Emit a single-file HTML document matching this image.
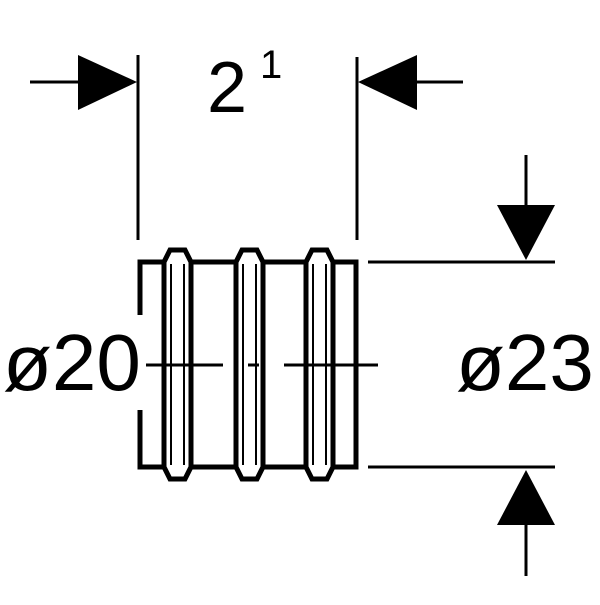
<!DOCTYPE html>
<html><head><style>body{margin:0;background:#fff}</style></head><body>
<svg width="600" height="600" viewBox="0 0 600 600" xmlns="http://www.w3.org/2000/svg">
<g stroke="#000" fill="none">
<line x1="30" y1="82" x2="80" y2="82" stroke-width="3"/>
<line x1="415" y1="82" x2="463" y2="82" stroke-width="3"/>
<line x1="138" y1="55" x2="138" y2="240" stroke-width="3"/>
<line x1="357" y1="57" x2="357" y2="240" stroke-width="3"/>
<line x1="368" y1="262" x2="555" y2="262" stroke-width="3"/>
<line x1="368" y1="467" x2="555" y2="467" stroke-width="3"/>
<line x1="526" y1="155" x2="526" y2="210" stroke-width="3"/>
<line x1="526" y1="520" x2="526" y2="576" stroke-width="3"/>
<path d="M140 315 V262 H356 V467 H140 V410" stroke-width="5"/>
</g>
<g fill="#000">
<polygon points="78,55 137,82 78,110"/>
<polygon points="417,55 358,82 417,110"/>
<polygon points="497,205 555,205 526,260"/>
<polygon points="497,525 555,525 526,470"/>
</g>
<g stroke="#000" fill="#fff">
<g id="r">
<path d="M164 262 L170 250 H185 L191 262 V467 L185 479 H170 L164 467 Z" stroke-width="5"/>
<line x1="171" y1="264" x2="171" y2="465" stroke-width="2"/>
<line x1="184" y1="264" x2="184" y2="465" stroke-width="2"/>
</g>
<use href="#r" x="72"/>
<use href="#r" x="142"/>
</g>
<g stroke="#000" stroke-width="3">
<line x1="146" y1="365" x2="223" y2="365"/>
<line x1="248" y1="365" x2="259" y2="365"/>
<line x1="284" y1="365" x2="378" y2="365"/>
</g>
<g font-family="Liberation Sans, sans-serif" fill="#000">
<text x="207" y="112" font-size="72">2</text>
<text x="260" y="78" font-size="40">1</text>
<text x="3" y="390" font-size="80">ø20</text>
<text x="456" y="390" font-size="80">ø23</text>
</g>
</svg>
</body></html>
